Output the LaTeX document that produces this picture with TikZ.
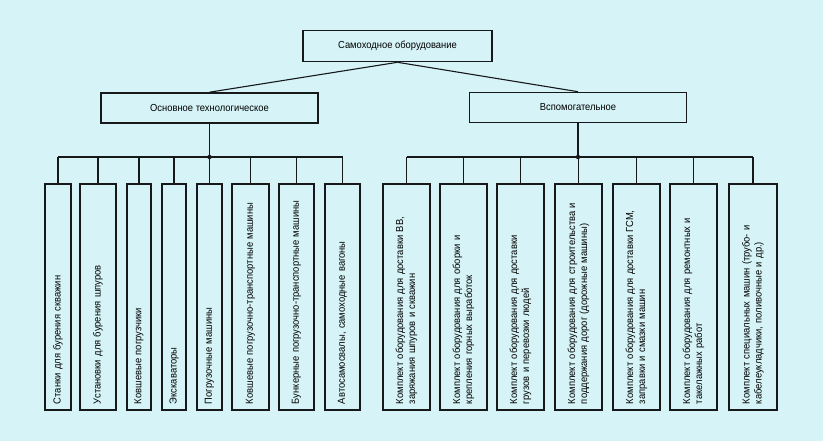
\documentclass[tikz,border=0pt]{standalone}
\usepackage{fontspec}
\setmainfont{Liberation Sans}[FakeStretch=0.92]
\usetikzlibrary{positioning}

\definecolor{paper}{RGB}{214,244,247}
\definecolor{ink}{RGB}{22,24,26}

\begin{document}
\begin{tikzpicture}[
  x=1pt, y=-1pt,
  box/.style={rectangle, draw=ink, line width=1.6pt, inner sep=0pt,
    align=center, font=\fontsize{10.2}{12}\selectfont},
  group/.style={box, minimum width=217pt, minimum height=30pt},
  item/.style={box, rotate=90, minimum width=226pt, text width=214pt,
    inner xsep=6pt, align=left},
  link/.style={draw=ink, line width=1.1pt},
  joint/.style={circle, fill=ink, inner sep=0pt, minimum size=4.5pt},
]
  \path[fill=paper, use as bounding box] (0,0) rectangle (823,441);

  % top levels
  \node[box, minimum width=189pt, minimum height=31pt] (root) at (397.5,46) {Самоходное оборудование};
  \node[group] (main) at (209.5,108) {Основное технологическое};
  \node[group] (aux) at (578,107.5) {Вспомогательное};
  \draw[link] (root.south) -- (main.north);
  \draw[link] (root.south) -- (aux.north);

  % main equipment
  \node[item, minimum height=26pt] (a1) at (58,297) {Станки для бурения скважин};
  \node[item, minimum height=36pt] (a2) at (98,297) {Установки для бурения шпуров};
  \node[item, minimum height=24pt] (a3) at (139,297) {Ковшевые погрузчики};
  \node[item, minimum height=24pt] (a4) at (174,297) {Экскаваторы};
  \node[item, minimum height=25pt] (a5) at (209.5,297) {Погрузочные машины};
  \node[item, minimum height=37pt] (a6) at (250.5,297) {Ковшевые погрузочно-транспортные машины};
  \node[item, minimum height=35pt] (a7) at (296.5,297) {Бункерные погрузочно-транспортные машины};
  \node[item, minimum height=35pt] (a8) at (342.5,297) {Автосамосвалы, самоходные вагоны};

  % auxiliary equipment
  \node[item, minimum height=47pt] (b1) at (406.5,297) {Комплект оборудования для доставки ВВ,\\заряжания шпуров и скважин};
  \node[item, minimum height=47pt] (b2) at (463.5,297) {Комплект оборудования для оборки и\\крепления горных выработок};
  \node[item, minimum height=47pt] (b3) at (520.5,297) {Комплект оборудования для доставки\\грузов и перевозки людей};
  \node[item, minimum height=47pt] (b4) at (578.5,297) {Комплект оборудования для строительства и\\поддержания дорог (дорожные машины)};
  \node[item, minimum height=47pt] (b5) at (636.5,297) {Комплект оборудования для доставки ГСМ,\\заправки и смазки машин};
  \node[item, minimum height=47pt] (b6) at (693.5,297) {Комплект оборудования для ремонтных и\\такелажных работ};
  \node[item, minimum height=48pt] (b7) at (753,297) {Комплект специальных машин (трубо- и\\кабелеукладчики, поливочные и др.)};

  % buses
  \coordinate (mbus) at (209.5,157);
  \coordinate (abus) at (578,157);
  \draw[link] (main.south) -- (mbus);
  \draw[link] (aux.south) -- (abus);
  \draw[link] (a1.east |- mbus) -- (a8.east |- mbus);
  \draw[link] (b1.east |- abus) -- (b7.east |- abus);
  \foreach \i in {1,...,8} \draw[link] (a\i.east) -- (a\i.east |- mbus);
  \foreach \i in {1,...,7} \draw[link] (b\i.east) -- (b\i.east |- abus);
  \node[joint] (mdot) at (mbus) {};
  \node[joint] (adot) at (abus) {};
\end{tikzpicture}
\end{document}
